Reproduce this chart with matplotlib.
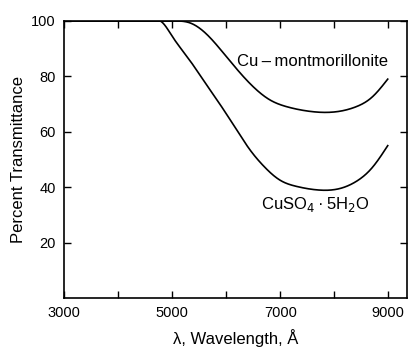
import numpy as np
import matplotlib.pyplot as plt

plt.rcParams['font.family'] = ['Liberation Sans', 'DejaVu Sans']

# Cu-montmorillonite spectrum; flat at 100 before 5050
wl_mont = [5050, 5330, 5650, 5950, 6260, 6570, 6810, 7130,
           7500, 7800, 8100, 8400, 8700, 8990]
t_mont = [100, 99.3, 95, 88.4, 81.2, 75, 71.5, 69,
          67.5, 67, 67.4, 69, 72.5, 79]

# CuSO4.5H2O spectrum; flat at 100 before 4780
wl_cuso4 = [4780, 5000, 5300, 5600, 5900, 6200, 6440, 6700, 7000,
            7300, 7700, 8100, 8400, 8700, 8990]
t_cuso4 = [100, 94.5, 86.5, 78, 69.5, 60.5, 53.5, 47.5, 42.5,
           40.3, 39, 39.5, 42, 47, 55]

x_ticks = [3000, 4000, 5000, 6000, 7000, 8000, 9000]
x_labels = ['3000', '', '5000', '', '7000', '', '9000']
y_ticks = [20, 40, 60, 80, 100]


def spline(x, y, start_slope=0.0, n=500):
    # cubic spline, clamped slope at the start, natural at the end
    x = np.asarray(x, float)
    y = np.asarray(y, float)
    N = len(x)
    h = np.diff(x)
    A = np.zeros((N, N))
    b = np.zeros(N)
    A[0, 0], A[0, 1] = 2 * h[0], h[0]
    b[0] = 6 * ((y[1] - y[0]) / h[0] - start_slope)
    for i in range(1, N - 1):
        A[i, i - 1] = h[i - 1]
        A[i, i] = 2 * (h[i - 1] + h[i])
        A[i, i + 1] = h[i]
        b[i] = 6 * ((y[i + 1] - y[i]) / h[i] - (y[i] - y[i - 1]) / h[i - 1])
    A[-1, -1] = 1
    M = np.linalg.solve(A, b)
    xs = np.linspace(x[0], x[-1], n)
    i = np.clip(np.searchsorted(x, xs) - 1, 0, N - 2)
    a = x[i + 1] - xs
    c = xs - x[i]
    ys = (M[i] * a**3 / (6 * h[i]) + M[i + 1] * c**3 / (6 * h[i])
          + (y[i] / h[i] - M[i] * h[i] / 6) * a
          + (y[i + 1] / h[i] - M[i + 1] * h[i] / 6) * c)
    return np.r_[3000, xs], np.r_[100, np.minimum(ys, 100)]


fig = plt.figure(figsize=(4.08, 3.49), dpi=100)
ax = fig.add_axes([0.157, 0.146, 0.841, 0.794])

xs, ys = spline(wl_mont, t_mont)
ax.plot(xs, ys, 'k-', linewidth=1.2)
xs, ys = spline(wl_cuso4, t_cuso4, start_slope=-0.01)
ax.plot(xs, ys, 'k-', linewidth=1.2)

ax.set_xlim(3000, 9350)
ax.set_ylim(0, 100)
ax.set_xticks(x_ticks)
ax.set_xticklabels(x_labels)
ax.set_yticks(y_ticks)
ax.tick_params(direction='in', length=5, width=1, labelsize=10.5,
               top=True, right=True, pad=6)
for sp in ax.spines.values():
    sp.set_linewidth(1.2)

ax.text(7590, 85.2, 'Cu\u2009\u2013\u2009montmorillonite', fontsize=12,
        ha='center', va='center')
ax.text(7660, 33.6, 'CuSO$_4$\u2009\u00b7\u20095H$_2$O', fontsize=12,
        ha='center', va='center')

ax.set_xlabel('\u03bb, Wavelength, \u00c5', fontsize=12, labelpad=6)
ax.set_ylabel('Percent Transmittance', fontsize=12, labelpad=4)

fig.savefig('out.png', dpi=100)
